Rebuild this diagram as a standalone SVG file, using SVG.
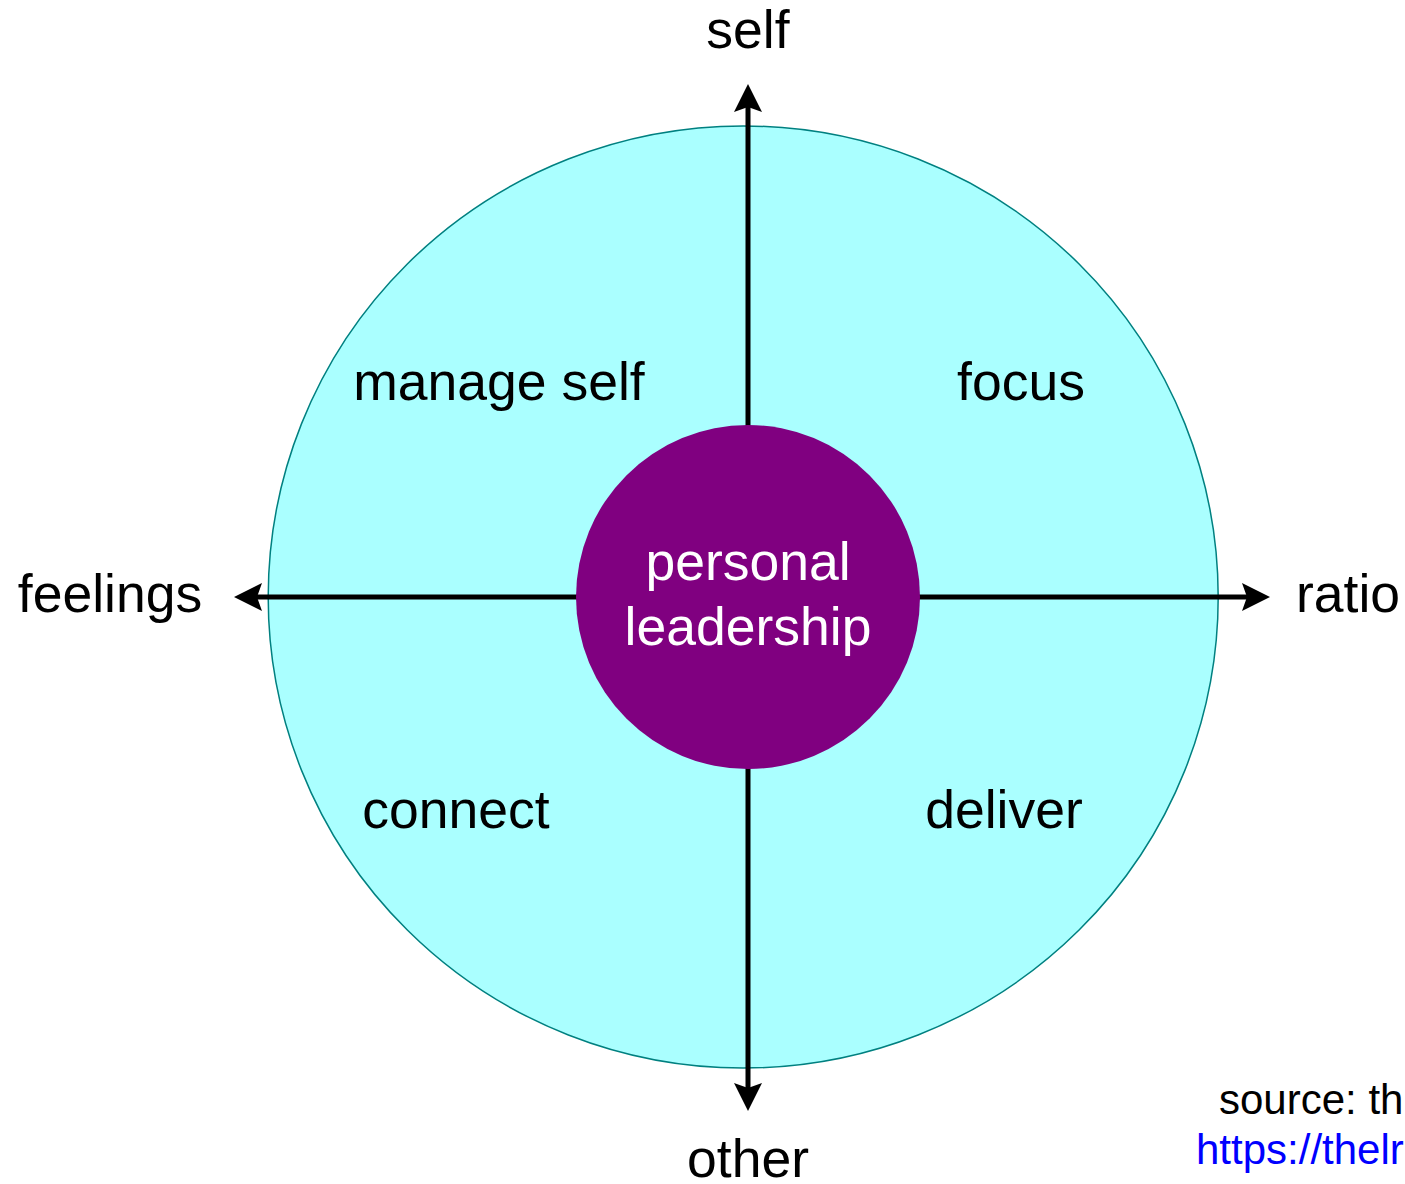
<svg xmlns="http://www.w3.org/2000/svg" width="1405" height="1184" viewBox="0 0 1405 1184">
<defs>
<style>
.lbl{font-family:"Liberation Sans",Arial,sans-serif;font-size:53.5px;fill:#000;text-anchor:middle}
.ctr{font-family:"Liberation Sans",Arial,sans-serif;font-size:53.5px;fill:#fff;text-anchor:middle}
.src{font-family:"Liberation Sans",Arial,sans-serif;font-size:42px}
.axis{stroke:#000;stroke-width:5;fill:none;marker-end:url(#arr)}
</style>
<marker id="arr" markerUnits="userSpaceOnUse" viewBox="-6 -15 30 30" markerWidth="30" markerHeight="30" refX="0" refY="0" orient="auto">
<path d="M-5,-14 L23,0 L-5,14 L0,0 Z" fill="#000"/>
</marker>
</defs>
<rect width="1405" height="1184" fill="#fff"/>
<g id="outer">
<ellipse cx="743.2" cy="597" rx="475" ry="471" fill="#aaffff" stroke="#008080" stroke-width="1.5"/>
</g>
<g id="connectors">
<line class="axis" x1="748" y1="597" x2="748" y2="107"/>
<line class="axis" x1="748" y1="597" x2="748" y2="1088"/>
<line class="axis" x1="748" y1="597" x2="1247" y2="597"/>
<line class="axis" x1="748" y1="597" x2="257" y2="597"/>
</g>
<g id="center">
<circle cx="748" cy="597" r="172" fill="#800080"/>
<text class="ctr" x="748" y="580">personal</text>
<text class="ctr" x="748" y="645">leadership</text>
</g>
<g id="self"><text class="lbl" x="748" y="48">self</text></g>
<g id="other"><text class="lbl" x="748" y="1177">other</text></g>
<g id="feelings"><text class="lbl" x="110" y="612">feelings</text></g>
<g id="ratio"><text class="lbl" x="1296" y="612" style="text-anchor:start">ratio</text></g>
<g id="manage-self"><text class="lbl" x="499" y="400">manage self</text></g>
<g id="focus"><text class="lbl" x="1021" y="400">focus</text></g>
<g id="connect"><text class="lbl" x="456" y="828">connect</text></g>
<g id="deliver"><text class="lbl" x="1004" y="828">deliver</text></g>
<g id="source">
<text class="src" x="1219" y="1114" fill="#000">source: th</text>
<text class="src" x="1196" y="1164" fill="#0000ff">https://thelr</text>
</g>
</svg>
